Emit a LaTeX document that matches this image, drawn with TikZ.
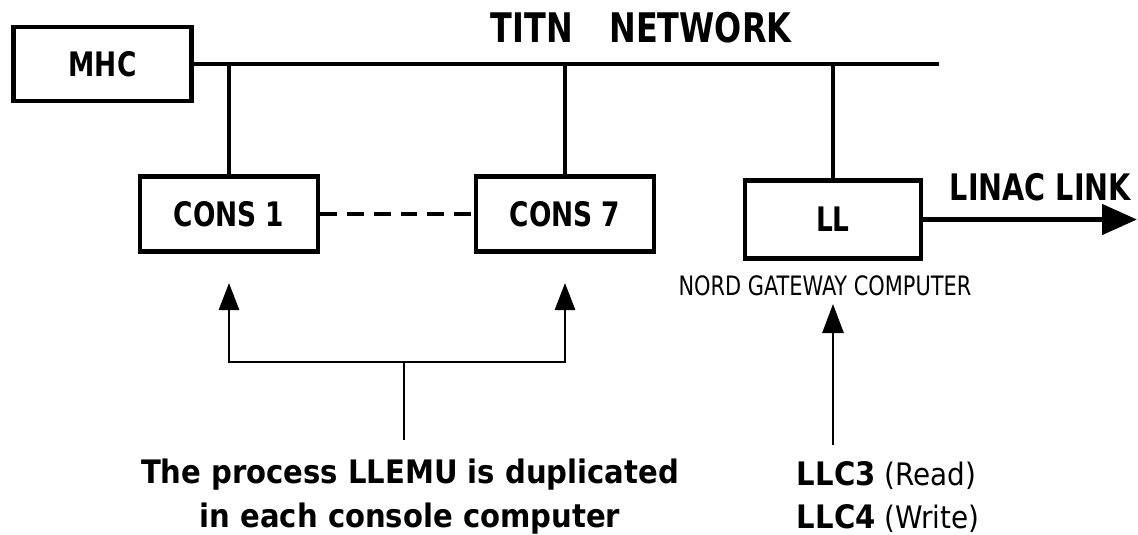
\documentclass[tikz,border=0pt]{standalone}
\usepackage{fontspec}
\setmainfont{DejaVu Sans Condensed}[BoldFont={DejaVu Sans Condensed Bold}]
\newfontfamily\narrowfont{DejaVu Sans Condensed}[BoldFont={DejaVu Sans Condensed Bold}, FakeStretch=0.87]
\usetikzlibrary{arrows.meta}

\tikzset{
	box/.style={draw, line width=3.5pt, minimum width=4.45cm, minimum height=1.875cm, inner sep=0pt, font=\narrowfont\bfseries\fontsize{24}{28}\selectfont},
	bus/.style={line width=3.5pt},
	feed/.style={line width=2pt, -{Triangle[length=0.675cm, width=0.5cm]}},
	bigtext/.style={font=\bfseries\fontsize{23}{27}\selectfont},
}

\begin{document}
\begin{tikzpicture}
	\useasboundingbox (0, 0) rectangle (28.45, 13.35);
	% Boxes:
	\node[box, minimum height=1.85cm] (MHC) at (2.5625, 11.75){MHC};
	\node[box] (CONS1) at (5.725, 8.0){CONS 1};
	\node[box] (CONS7) at (14.125, 8.0){CONS 7};
	\node[box, minimum width=4.4cm, minimum height=1.95cm] (LL) at (20.825, 7.8625){LL};
	% Network and taps:
	\coordinate (netend) at (23.475, 11.75);
	\draw[bus] (MHC.east) -- (netend);
	\draw[bus] (CONS1.north) -- (CONS1.north |- netend);
	\draw[bus] (CONS7.north) -- (CONS7.north |- netend);
	\draw[bus] (LL.north) -- (LL.north |- netend);
	\node[anchor=base, font=\narrowfont\bfseries\fontsize{29}{33}\selectfont] (titn) at (16.025, 12.3){TITN\hspace{0.9em}NETWORK};
	\draw[bus, dash pattern=on 12pt off 7pt] (CONS1.east) -- (CONS7.west);
	% Linac link:
	\coordinate (linac) at (28.425, 7.8625);
	\draw[bus, -{Triangle[length=0.875cm, width=0.75cm]}] (LL.east) -- (linac);
	\node[anchor=base west, font=\narrowfont\bfseries\fontsize{26}{30}\selectfont] (linaclbl) at (23.625, 8.35){LINAC LINK};
	\node[anchor=base, font=\narrowfont\fontsize{19}{22}\selectfont] (nord) at (20.625, 5.975){NORD GATEWAY COMPUTER};
	% LLEMU in the consoles:
	\coordinate (fork) at (10.1, 4.3);
	\coordinate (stem) at (10.1, 2.35);
	\coordinate (tip1) at (5.725, 6.275);
	\coordinate (tip7) at (14.125, 6.275);
	\draw[feed] (stem) -- (fork) -| (tip1);
	\draw[feed] (fork) -| (tip7);
	\node[bigtext, anchor=base] (dup1) at (10.25, 1.275){The process LLEMU is duplicated};
	\node[bigtext, anchor=base] (dup2) at (10.25, 0.175){in each console computer};
	% LLC3 / LLC4:
	\coordinate (llcin) at (20.825, 2.225);
	\coordinate (lltip) at (20.825, 5.75);
	\draw[feed, -{Triangle[length=0.725cm, width=0.525cm]}] (llcin) -- (lltip);
	\node[anchor=base west, font=\fontsize{22}{26}\selectfont] (llc3) at (19.8, 1.225){\textbf{\fontsize{23}{27}\selectfont LLC3} (Read)};
	\node[anchor=base west, font=\fontsize{22}{26}\selectfont] (llc4) at (19.8, 0.15){\textbf{\fontsize{23}{27}\selectfont LLC4} (Write)};
\end{tikzpicture}
\end{document}
